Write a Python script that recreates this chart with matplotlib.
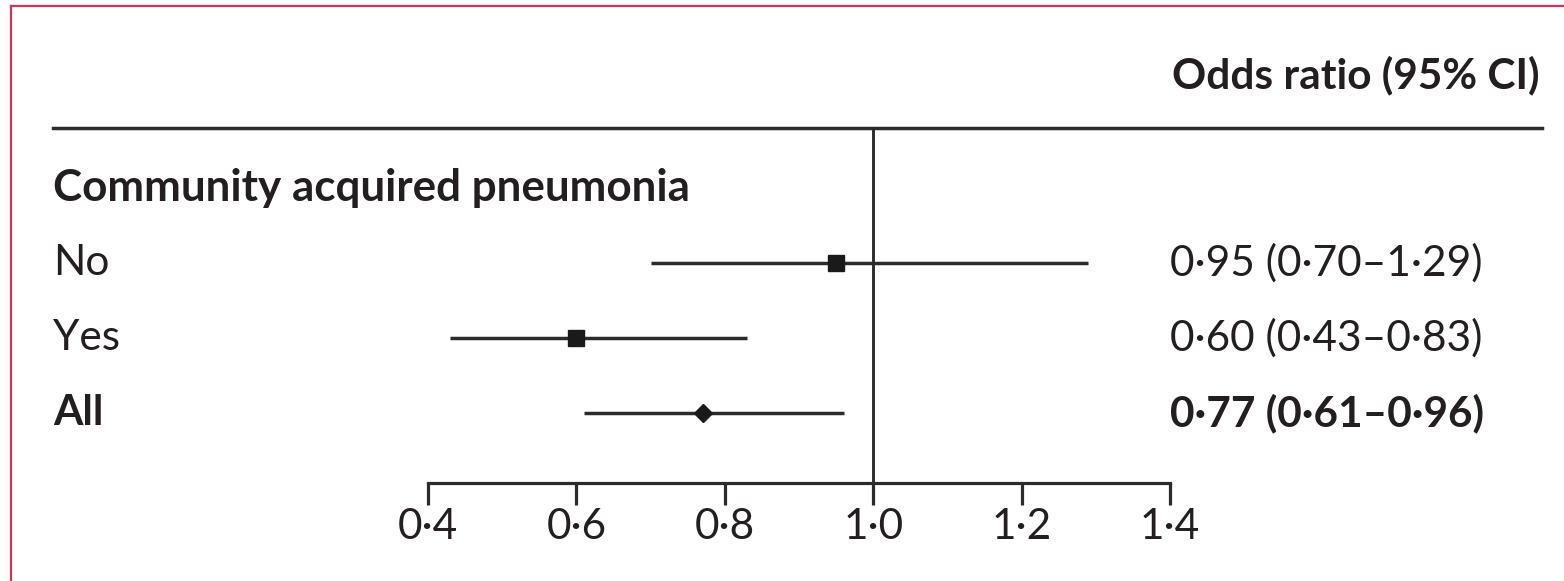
import matplotlib
matplotlib.use("Agg")
import matplotlib.pyplot as plt
from matplotlib.lines import Line2D

# Forest plot data
group_title = "Community acquired pneumonia"
row_labels = ["No", "Yes", "All"]
odds_ratio = [0.95, 0.60, 0.77]
ci_low = [0.70, 0.43, 0.61]
ci_high = [1.29, 0.83, 0.96]
row_bold = [False, False, True]
row_marker = ["s", "s", "D"]
x_ticks = [0.4, 0.6, 0.8, 1.0, 1.2, 1.4]
column_header = "Odds ratio (95% CI)"

W, H = 1564, 581
DPI = 100
TEXT = "#231f20"
LINE = "#2b2b2b"
FONT = ["Lato", "DejaVu Sans"]
FS = 30.5

plt.rcParams["font.family"] = FONT


def fmt(v):
    return f"{v:.2f}".replace(".", "\u00b7")


fig = plt.figure(figsize=(W / DPI, H / DPI), dpi=DPI)


def fx(px):
    return px / W


def fy(py):
    return 1 - py / H


# plotting area: x from 0.4 to 1.4, top rule to axis line
ax_left, ax_right = 428, 1170
ax_top, ax_bottom = 128, 483
ax = fig.add_axes([fx(ax_left), fy(ax_bottom), fx(ax_right - ax_left),
                   (ax_bottom - ax_top) / H])
ax.set_xlim(0.4, 1.4)
row0 = 188.0
step = 75.0
ax.set_ylim((ax_bottom - row0) / step, (ax_top - row0) / step)
ax.patch.set_visible(False)
for s in ["top", "left", "right"]:
    ax.spines[s].set_visible(False)
ax.spines["bottom"].set_linewidth(2.3)
ax.spines["bottom"].set_color(LINE)
ax.set_yticks([])
ax.set_xticks(x_ticks)
ax.set_xticklabels([f"{t:.1f}".replace(".", "\u00b7") for t in x_ticks])
ax.tick_params(axis="x", direction="out", length=16, width=2.3, color=LINE,
               labelsize=FS, labelcolor=TEXT, pad=2)

# line of no effect
ax.axvline(1.0, color=LINE, lw=2.1, zorder=1)

for i, (lab, orv, lo, hi, b, m) in enumerate(
        zip(row_labels, odds_ratio, ci_low, ci_high, row_bold, row_marker)):
    y = i + 1
    ax.plot([lo, hi], [y, y], color=LINE, lw=2.5, solid_capstyle="butt", zorder=2)
    ax.plot([orv], [y], marker=m, color="#1a1a1a", ms=11 if m == "s" else 9,
            mec="#1a1a1a", zorder=3, clip_on=False)
    fig.text(fx(53), fy(row0 + step * y), lab, fontsize=FS,
             fontweight="bold" if b else "normal", color=TEXT,
             ha="left", va="center")
    fig.text(fx(1170), fy(row0 + step * y),
             f"{fmt(orv)} ({fmt(lo)}\u2013{fmt(hi)})", fontsize=FS,
             fontweight="bold" if b else "normal", color=TEXT,
             ha="left", va="center")

fig.text(fx(53), fy(row0), group_title, fontsize=FS + 1.2, fontweight="bold",
         color=TEXT, ha="left", va="center")
fig.text(fx(1540), fy(75), column_header, fontsize=FS, fontweight="bold",
         color=TEXT, ha="right", va="center")

# top rule
fig.add_artist(Line2D([fx(53), fx(1542)], [fy(128), fy(128)], color=LINE, lw=2.5))

# frame edges
frame_c = "#c8355e"
fig.add_artist(Line2D([fx(11), fx(11)], [fy(6), 0], color=frame_c, lw=1.6))
fig.add_artist(Line2D([fx(11), 1], [fy(6), fy(6)], color=frame_c, lw=1.6))

fig.savefig("out.png", dpi=DPI)
